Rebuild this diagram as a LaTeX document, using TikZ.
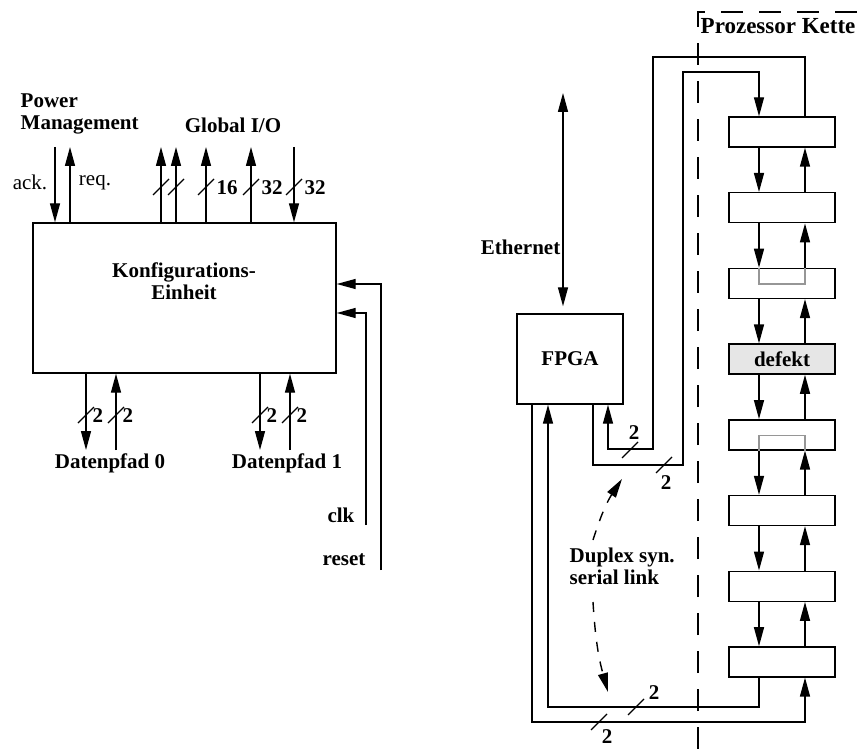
\documentclass[tikz,border=0pt]{standalone}
\usepackage{fontspec}
\setmainfont{Liberation Serif}
\usetikzlibrary{arrows.meta,positioning,calc}
\definecolor{bridgegray}{RGB}{150,150,150}
\definecolor{defektfill}{RGB}{230,230,230}
\newcommand{\dfont}{\fontsize{10.5}{11}\selectfont}

\begin{document}
\begin{tikzpicture}[x=0.5pt,y=-0.5pt,line width=0.7pt,
  sig/.style={-{Triangle[length=9.5pt,width=5pt]}},
  ethsig/.style={{Triangle[length=9.5pt,width=5pt]}-{Triangle[length=9.5pt,width=5pt]}},
  linksig/.style={-{Triangle[length=9.5pt,width=5pt]},dash pattern=on 5pt off 5pt},
  block/.style={draw,rectangle,inner sep=0pt,font=\dfont\bfseries},
  procbox/.style={block,minimum width=53pt,minimum height=15pt},
  lbl/.style={inner sep=0pt,align=left,font=\dfont\bfseries},
  plain/.style={inner sep=0pt,font=\dfont},
  bridge/.style={draw=bridgegray,line width=0.9pt},
  boundary/.style={dash pattern=on 11pt off 8pt},
  busmark/.pic={\draw (-8,8)--(8,-8);}]
\useasboundingbox (0,0) rectangle (858,749);
% Konfigurations-Einheit
\node[block,minimum width=151.5pt,minimum height=75pt] (konf) at (184.5,298) {};
\node[lbl,align=center] (konftxt) at (184,281) {Konfigurations-\\Einheit};
\node[lbl,anchor=west] (pm) at (20,114) {Power\\Management};
\node[lbl] (gio) at (233,125) {Global I/O};
\node[plain] (ack) at (30,182) {ack.};
\node[plain] (req) at (95,183) {req.};
\foreach \x in {70,161,176,206,251}
  \draw[sig] (konf.north -| \x,0) -- (\x,147);
\foreach \x in {55,294}
  \draw[sig] (\x,147) -- (konf.north -| \x,0);
\foreach \x in {161,176,206,251,294}
  \pic at (\x,187) {busmark};
\foreach \x/\w in {206/16,251/32,294/32}
  \node[lbl,anchor=west] at (\x+10,188) {\w};
% Datenpfade
\foreach \x in {86,260}
  \draw[sig] (konf.south -| \x,0) -- (\x,450);
\foreach \x in {116,290}
  \draw[sig] (\x,450) -- (konf.south -| \x,0);
\foreach \x in {86,116,260,290}{
  \pic at (\x,415) {busmark};
  \node[lbl,anchor=west] at (\x+6,416) {2};}
\node[lbl] (dp0) at (110,463) {Datenpfad 0};
\node[lbl] (dp1) at (287,463) {Datenpfad 1};
% clk / reset
\coordinate (clkin) at (366,525);
\coordinate (rstin) at (381,570);
\draw[sig] (clkin) |- (konf.east |- 0,313);
\draw[sig] (rstin) |- (konf.east |- 0,284);
\node[lbl] (clk) at (341,515) {clk};
\node[lbl] (rst) at (344,560) {reset};
% FPGA
\node[block,minimum width=53pt,minimum height=45pt] (fpga) at (570,359) {FPGA};
\coordinate (eth) at (563,93);
\draw[ethsig,shorten >=3.5pt] (eth) -- (fpga.north -| eth);
\node[lbl,anchor=east] (ethtxt) at (561,247) {Ethernet};
% Prozessor Kette
\draw[boundary] (698,749) -- (698,12) -- (870,12);
\node[lbl,anchor=west,font=\fontsize{11.5}{12}\selectfont\bfseries] (kette) at (700,26) {Prozessor Kette};
\coordinate (dn) at (759,0);
\coordinate (up) at (805,0);
\foreach \i in {1,...,8}
  \node[procbox] (p\i) at (782,{132+(\i-1)*75.7}) {};
\node[procbox,fill=defektfill] (p4) at (782,{132+3*75.7}) {defekt};
\foreach \i [evaluate=\i as \j using int(\i+1)] in {1,...,7}{
  \draw[sig] (p\i.south -| dn) -- (p\j.north -| dn);
  \draw[sig] (p\j.north -| up) -- (p\i.south -| up);}
\draw[bridge] (p3.north -| dn) -- ++(0,16) -| (p3.north -| up);
\draw[bridge] (p5.south -| dn) -- ++(0,-15) -| (p5.south -| up);
% Verbindungen FPGA - Kette
\draw[sig] (p1.north -| up) |- (653,57) |- (608,449) -- (fpga.south -| 608,0);
\draw[sig] (fpga.south -| 593,0) |- (683,465) |- (759,72) -- (p1.north -| dn);
\draw[sig] (p8.south -| dn) |- (548,707) -- (fpga.south -| 548,0);
\draw[sig] (fpga.south -| 532,0) |- (805,722) -- (p8.south -| up);
\foreach \x/\y/\lx/\ly in {630/450/634/433,664/465/666/483,636/707/654/693,599/722/607/737}{
  \pic at (\x,\y) {busmark};
  \node[lbl] at (\lx,\ly) {2};}
% Duplex serial link
\node[lbl,anchor=west] (duplex) at (569,566) {Duplex syn.\\serial link};
\coordinate (lk1) at (593,540);
\coordinate (lk1end) at (622,479);
\coordinate (lk2) at (593,602);
\coordinate (lk2end) at (608,692);
\draw[linksig] (lk1) to[bend left=8] (lk1end);
\draw[linksig] (lk2) to[bend right=6] (lk2end);
\end{tikzpicture}
\end{document}
